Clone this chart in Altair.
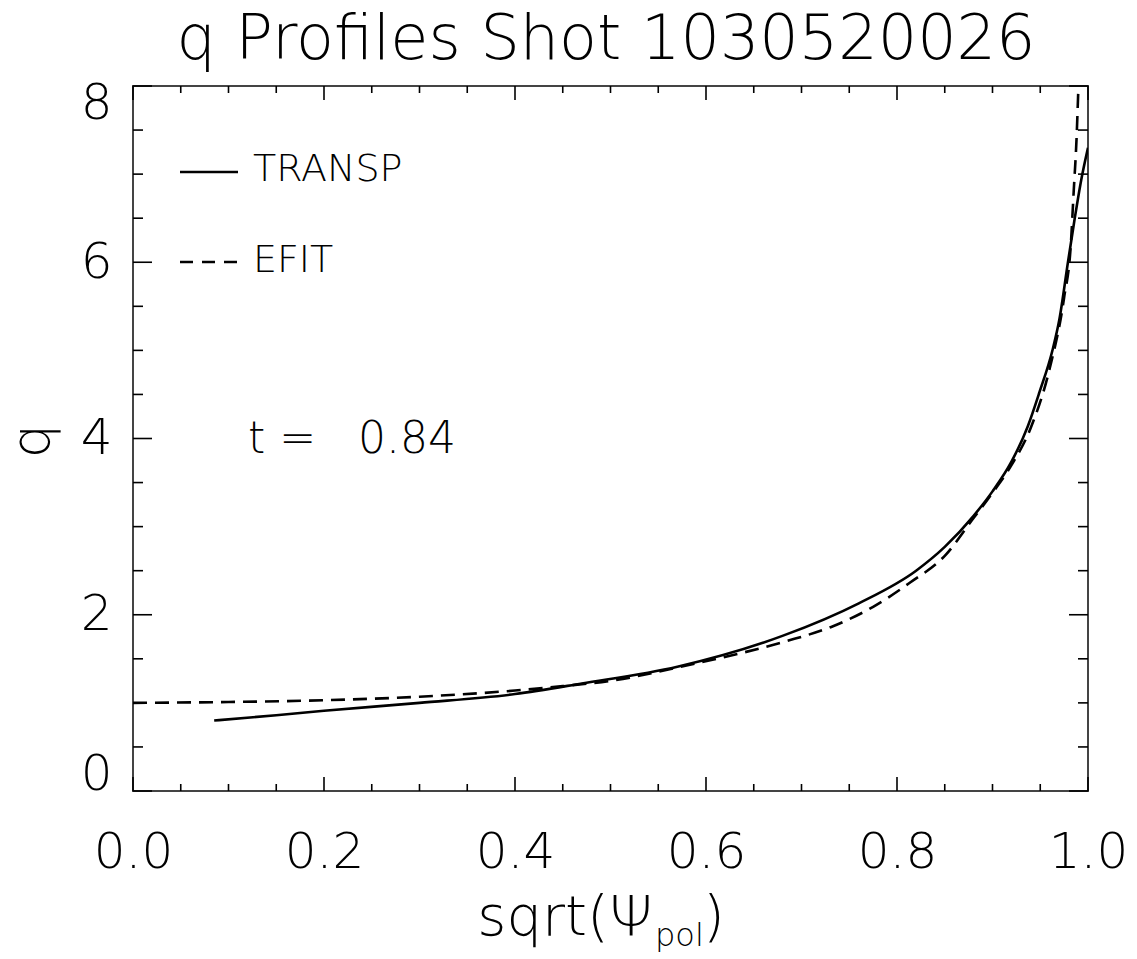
import altair as alt
import pandas as pd

# ---- data ----
transp_x = [0.085, 0.15, 0.2, 0.3, 0.4, 0.47, 0.57, 0.68, 0.76, 0.82, 0.85, 0.88,
            0.90, 0.92, 0.937, 0.949, 0.963, 0.97, 0.979, 0.986, 0.993, 1.0]
transp_q = [0.80, 0.86, 0.91, 1.00, 1.10, 1.22, 1.41, 1.76, 2.13, 2.50, 2.77, 3.12,
            3.40, 3.74, 4.14, 4.52, 5.01, 5.35, 6.00, 6.49, 6.94, 7.30]

efit_x = [0.0, 0.1, 0.2, 0.3, 0.4, 0.45, 0.5, 0.59, 0.635, 0.684, 0.733, 0.775,
          0.813, 0.851, 0.879, 0.897, 0.92, 0.94, 0.96, 0.975, 0.982, 0.985,
          0.988, 0.990, 0.992]
efit_q = [1.00, 1.01, 1.03, 1.07, 1.14, 1.19, 1.25, 1.45, 1.56, 1.70, 1.87, 2.09,
          2.36, 2.68, 3.08, 3.34, 3.70, 4.12, 4.80, 5.60, 6.20, 6.80,
          7.40, 8.00, 8.60]

x_major = [0.0, 0.2, 0.4, 0.6, 0.8, 1.0]
x_minor = [0.05, 0.1, 0.15, 0.25, 0.3, 0.35, 0.45, 0.5, 0.55, 0.65, 0.7, 0.75,
           0.85, 0.9, 0.95]
y_major = [0, 2, 4, 6, 8]
y_minor = [0.5, 1, 1.5, 2.5, 3, 3.5, 4.5, 5, 5.5, 6.5, 7, 7.5]

title_text = "q Profiles Shot 1030520026"
legend_names = ["TRANSP", "EFIT"]
time_text = "t = \u00a0 0.84"

FONT = "DejaVu Sans"
FW = 200
W, H = 955, 705

xs = alt.Scale(domain=[0, 1], nice=False, zero=False)
ys = alt.Scale(domain=[0, 8], nice=False, zero=False)

df_t = pd.DataFrame({"x": transp_x, "q": transp_q})
df_e = pd.DataFrame({"x": efit_x, "q": efit_q})

x_axis = alt.Axis(values=x_major, format=".1f", ticks=False, tickSize=0, domain=False,
                  grid=False, labelFont=FONT, labelFontSize=50, labelFontWeight=FW,
                  labelColor="black", labelPadding=36, labelFlush=False,
                  labelOverlap=False, title=None)
y_axis = alt.Axis(values=y_major, format="d", ticks=False, tickSize=0, domain=False,
                  grid=False, labelFont=FONT, labelFontSize=50, labelFontWeight=FW,
                  labelColor="black", labelPadding=21, labelFlush=True,
                  labelFlushOffset=8, labelOverlap=False, title=None)

X = alt.X("x:Q", scale=xs, axis=x_axis)
Y = alt.Y("q:Q", scale=ys, axis=y_axis)

transp = alt.Chart(df_t).mark_line(color="black", strokeWidth=2.6, clip=True,
                                   interpolate="monotone").encode(x=X, y=Y)
efit = alt.Chart(df_e).mark_line(color="black", strokeWidth=2.6, clip=True,
                                 strokeDash=[14, 8], interpolate="monotone").encode(x=X, y=Y)


def xticks(vals, length, side):
    d = pd.DataFrame({"x": vals})
    y0, y1 = (H, H - length) if side == "bottom" else (0, length)
    return alt.Chart(d).mark_rule(color="black", strokeWidth=1.6).encode(
        x=X, y=alt.value(y0), y2=alt.value(y1))


def yticks(vals, length, side):
    d = pd.DataFrame({"q": vals})
    x0, x1 = (0, length) if side == "left" else (W, W - length)
    return alt.Chart(d).mark_rule(color="black", strokeWidth=1.6).encode(
        y=Y, x=alt.value(x0), x2=alt.value(x1))


ticks = [
    xticks(x_major, 14, "bottom"), xticks(x_minor, 7, "bottom"),
    xticks(x_major, 14, "top"), xticks(x_minor, 7, "top"),
    yticks(y_major, 19, "left"), yticks(y_minor, 10, "left"),
    yticks(y_major, 19, "right"), yticks(y_minor, 10, "right"),
]


def label(text, x, y, size, align="left", baseline="middle", angle=0):
    kw = dict(font=FONT, fontSize=size, fontWeight=FW, color="black",
              align=align, baseline=baseline)
    if angle:
        kw["angle"] = angle
    return alt.Chart(pd.DataFrame({"t": [text]})).mark_text(**kw).encode(
        text="t:N", x=alt.value(x), y=alt.value(y))


one = pd.DataFrame({"k": [0]})
leg_solid = alt.Chart(one).mark_rule(color="black", strokeWidth=2.6).encode(
    x=alt.value(47), x2=alt.value(105), y=alt.value(86))
leg_dash = alt.Chart(one).mark_rule(color="black", strokeWidth=2.6,
                                    strokeDash=[13, 9]).encode(
    x=alt.value(47), x2=alt.value(105), y=alt.value(176))

texts = [
    label(title_text, 473, -27, 62, align="center", baseline="alphabetic"),
    label(legend_names[0], 120, 84, 38),
    label(legend_names[1], 120, 175, 38),
    label(time_text, 115, 354, 44),
    label("sqrt(\u03a8", 520, 849, 56, align="right", baseline="alphabetic"),
    label("pol", 522, 860, 32, align="left", baseline="alphabetic"),
    label(")", 570, 849, 56, align="left", baseline="alphabetic"),
    label("q", -100, 355, 54, align="center", baseline="middle", angle=270),
]

chart = alt.layer(transp, efit, *ticks, leg_solid, leg_dash, *texts).properties(
    width=W, height=H,
    padding={"left": 133, "top": 86, "right": 49, "bottom": 168},
    autosize=alt.AutoSizeParams(type="none"),
    background="white",
).configure_view(stroke="#444", strokeWidth=2)

chart.save("out.html", embed_options={"renderer": "svg", "actions": False})
